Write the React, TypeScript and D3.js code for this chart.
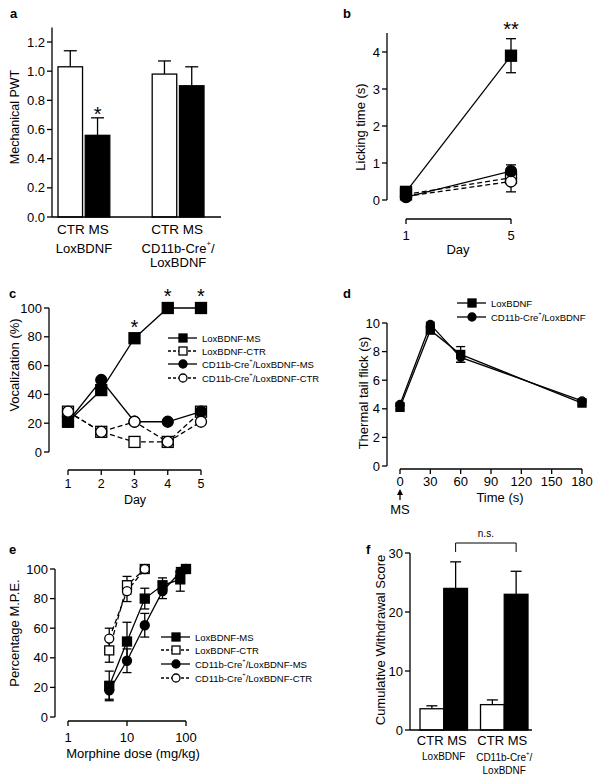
import React from 'react'
import * as d3 from 'd3'

const FONT = '"Liberation Sans", Arial, Helvetica, sans-serif'

// a: mechanical paw withdrawal threshold
const groups = ['LoxBDNF', 'CD11b-Cre+/LoxBDNF']
const conds = ['CTR', 'MS']
const mechCTR = [1.03, 0.98]
const mechCTRErr = [0.11, 0.09]
const mechMS = [0.56, 0.9]
const mechMSErr = [0.12, 0.13]
const mechTicks = [0, 0.2, 0.4, 0.6, 0.8, 1.0, 1.2]

// b: licking time
const lickDays = [1, 5]
const lickLoxMS = [0.22, 3.9]
const lickLoxMSErr = [0.05, 0.46]
const lickLoxCTR = [0.15, 0.6]
const lickLoxCTRErr = [0.04, 0.12]
const lickCreMS = [0.08, 0.78]
const lickCreMSErr = [0.03, 0.17]
const lickCreCTR = [0.1, 0.5]
const lickCreCTRErr = [0.04, 0.28]
const lickTicks = [0, 1, 2, 3, 4]

// c: vocalization
const vocDays = [1, 2, 3, 4, 5]
const vocLoxMS = [21, 43, 79, 100, 100]
const vocLoxCTR = [28, 14, 7, 7, 28]
const vocCreMS = [21, 50, 21, 21, 28]
const vocCreCTR = [28, 14, 21, 7, 21]
const vocTicks = [0, 20, 40, 60, 80, 100]
const vocStarDays = [3, 4, 5]

// d: thermal tail flick
const tailTimes = [0, 30, 60, 180]
const tailLox = [4.1, 9.5, 7.8, 4.4]
const tailLoxErr = [0.15, 0.2, 0.55, 0.15]
const tailCre = [4.3, 9.9, 7.6, 4.55]
const tailCreErr = [0.12, 0.15, 0.35, 0.12]
const tailYTicks = [0, 2, 4, 6, 8, 10]
const tailXTicks = [0, 30, 60, 90, 120, 150, 180]

// e: morphine dose response
const doseMS = [5, 10, 20, 40, 80, 100]
const mpeLoxMS = [21, 51, 80, 89, 93, 100]
const mpeLoxMSErr = [10, 13, 7, 5, 8, 0]
const mpeCreMS = [18, 38, 62, 85, 98, 100]
const mpeCreMSErr = [6, 8, 8, 5, 2, 0]
const doseCTR = [5, 10, 20]
const mpeLoxCTR = [45, 89, 100]
const mpeLoxCTRErr = [8, 6, 0]
const mpeCreCTR = [53, 85, 100]
const mpeCreCTRErr = [7, 7, 0]
const mpeTicks = [0, 20, 40, 60, 80, 100]
const doseTicks = [1, 10, 100]

// f: withdrawal score
const wdCTR = [3.6, 4.3]
const wdCTRErr = [0.5, 0.8]
const wdMS = [24, 23]
const wdMSErr = [4.5, 3.9]
const wdTicks = [0, 10, 20, 30]

type Sty = { shape: 'square' | 'circle'; filled: boolean; dashed: boolean }
const LOX_MS: Sty = { shape: 'square', filled: true, dashed: false }
const LOX_CTR: Sty = { shape: 'square', filled: false, dashed: true }
const CRE_MS: Sty = { shape: 'circle', filled: true, dashed: false }
const CRE_CTR: Sty = { shape: 'circle', filled: false, dashed: true }

const SW = 1.3

function Mark({ cx, cy, sty, size }: { cx: number; cy: number; sty: Sty; size: number }) {
  const fill = sty.filled ? '#000' : '#fff'
  if (sty.shape === 'square')
    return <rect x={cx - size / 2} y={cy - size / 2} width={size} height={size} fill={fill} stroke="#000" strokeWidth={SW} />
  return <circle cx={cx} cy={cy} r={size / 2} fill={fill} stroke="#000" strokeWidth={SW} />
}

function ErrBar({ x, y1, y2, cap, lower = true }: { x: number; y1: number; y2: number; cap: number; lower?: boolean }) {
  return (
    <g stroke="#000" strokeWidth={SW}>
      <line x1={x} x2={x} y1={y1} y2={y2} />
      <line x1={x - cap / 2} x2={x + cap / 2} y1={y2} y2={y2} />
      {lower && <line x1={x - cap / 2} x2={x + cap / 2} y1={y1} y2={y1} />}
    </g>
  )
}

type SeriesDef = { xs: number[]; ys: number[]; errs?: number[]; sty: Sty }

function Series({ defs, x, y, size, cap }: { defs: SeriesDef[]; x: (v: number) => number; y: (v: number) => number; size: number; cap: number }) {
  return (
    <g>
      {defs.map((s, k) => {
        const d = d3.line<number>().x((_, i) => x(s.xs[i])).y(v => y(v))(s.ys)
        return <path key={'l' + k} d={d || ''} fill="none" stroke="#000" strokeWidth={SW} strokeDasharray={s.sty.dashed ? '5,3' : undefined} />
      })}
      {defs.map((s, k) =>
        s.errs ? s.ys.map((v, i) => s.errs![i] > 0 ? <ErrBar key={'e' + k + i} x={x(s.xs[i])} y1={y(v - s.errs![i])} y2={y(v + s.errs![i])} cap={cap} /> : null) : null
      )}
      {defs.map((s, k) => s.ys.map((v, i) => <Mark key={'m' + k + i} cx={x(s.xs[i])} cy={y(v)} sty={s.sty} size={size} />))}
    </g>
  )
}

function YAxis({ x, y, ticks, top, fmt, fs = 13 }: { x: number; y: (v: number) => number; ticks: number[]; top: number; fmt: (v: number) => string; fs?: number }) {
  return (
    <g>
      <line x1={x} x2={x} y1={y(ticks[0])} y2={top} stroke="#000" strokeWidth={SW} />
      {ticks.map(t => (
        <g key={t}>
          <line x1={x - 5} x2={x} y1={y(t)} y2={y(t)} stroke="#000" strokeWidth={SW} />
          <text x={x - 7} y={y(t)} textAnchor="end" dominantBaseline="central" fontSize={fs}>{fmt(t)}</text>
        </g>
      ))}
    </g>
  )
}

function XBracket({ x, y, ticks, gap, fs = 13 }: { x: (v: number) => number; y: number; ticks: number[]; gap: number; fs?: number }) {
  return (
    <g>
      <line x1={x(ticks[0])} x2={x(ticks[ticks.length - 1])} y1={y} y2={y} stroke="#000" strokeWidth={SW} />
      {ticks.map(t => (
        <g key={t}>
          <line x1={x(t)} x2={x(t)} y1={y} y2={y + 5} stroke="#000" strokeWidth={SW} />
          <text x={x(t)} y={y + gap} textAnchor="middle" dominantBaseline="central" fontSize={fs}>{t}</text>
        </g>
      ))}
    </g>
  )
}

function YTitle({ x, cy, text, fs = 13 }: { x: number; cy: number; text: string; fs?: number }) {
  return <text transform={`translate(${x},${cy}) rotate(-90)`} textAnchor="middle" dominantBaseline="central" fontSize={fs}>{text}</text>
}

function CreText({ x, y, rest, fs, anchor = 'start' }: { x: number; y: number; rest: string; fs: number; anchor?: string }) {
  return (
    <text x={x} y={y} fontSize={fs} dominantBaseline="central" textAnchor={anchor as any}>
      <tspan>CD11b-Cre</tspan>
      <tspan fontSize={fs * 0.6} dy={-fs * 0.4}>+</tspan>
      <tspan dy={fs * 0.4}>{rest}</tspan>
    </text>
  )
}

function Legend({ x, rows, size }: { x: number; rows: { y: number; sty: Sty; label: string; cre: boolean }[]; size: number }) {
  return (
    <g>
      {rows.map((r, i) => (
        <g key={i}>
          <line x1={x} x2={x + 29} y1={r.y} y2={r.y} stroke="#000" strokeWidth={SW} strokeDasharray={r.sty.dashed ? '3,2' : undefined} />
          <Mark cx={x + 15} cy={r.y} sty={r.sty} size={size} />
          {r.cre
            ? <CreText x={x + 34} y={r.y} rest={r.label} fs={9.5} />
            : <text x={x + 34} y={r.y} fontSize={9.5} dominantBaseline="central">{r.label}</text>}
        </g>
      ))}
    </g>
  )
}

function Star({ x, cy, text }: { x: number; cy: number; text: string }) {
  return <text x={x} y={cy + 11} textAnchor="middle" fontSize={20}>{text}</text>
}

function PanelA() {
  const xg = d3.scaleBand().domain(groups).range([58, 204]).paddingInner(0.45)
  const xi = d3.scaleBand().domain(conds).range([0, xg.bandwidth()]).paddingInner(0.1)
  const y = d3.scaleLinear().domain([0, 1.2]).range([217, 42])
  const bars = groups.flatMap((g, gi) => [
    { g, c: 'CTR', v: mechCTR[gi], e: mechCTRErr[gi] },
    { g, c: 'MS', v: mechMS[gi], e: mechMSErr[gi] },
  ])
  const cx = (b: { g: string; c: string }) => xg(b.g)! + xi(b.c)! + xi.bandwidth() / 2
  return (
    <g>
      <text x={10} y={18} fontSize={13} fontWeight="bold">a</text>
      <YAxis x={52} y={y} ticks={mechTicks} top={y(1.3)} fmt={d3.format('.1f')} />
      <YTitle x={15} cy={117} text="Mechanical PWT" fs={12.5} />
      {bars.map((b, i) => (
        <g key={i}>
          <ErrBar x={cx(b)} y1={y(b.v)} y2={y(b.v + b.e)} cap={13} lower={false} />
          <rect x={xg(b.g)! + xi(b.c)!} y={y(b.v)} width={xi.bandwidth()} height={y(0) - y(b.v)} fill={b.c === 'MS' ? '#000' : '#fff'} stroke="#000" strokeWidth={SW} />
        </g>
      ))}
      {groups.map(g => (
        <text key={g} x={xg(g)! + xg.bandwidth() / 2 - 1} y={229} textAnchor="middle" dominantBaseline="central" fontSize={13.5}>{conds.join('  ')}</text>
      ))}
      <line x1={52} x2={221} y1={y(0)} y2={y(0)} stroke="#000" strokeWidth={SW} />
      <Star x={cx(bars[1])} cy={110} text="*" />
      <text x={xg(groups[0])! + xg.bandwidth() / 2} y={248} textAnchor="middle" dominantBaseline="central" fontSize={13}>LoxBDNF</text>
      <CreText x={xg(groups[1])! + xg.bandwidth() / 2} y={248} rest="/" fs={13} anchor="middle" />
      <text x={xg(groups[1])! + xg.bandwidth() / 2} y={262} textAnchor="middle" dominantBaseline="central" fontSize={13}>LoxBDNF</text>
    </g>
  )
}

function PanelB() {
  const x = d3.scaleLinear().domain([1, 5]).range([406, 511])
  const y = d3.scaleLinear().domain([0, 4]).range([200, 52])
  const defs: SeriesDef[] = [
    { xs: lickDays, ys: lickLoxCTR, errs: lickLoxCTRErr, sty: LOX_CTR },
    { xs: lickDays, ys: lickCreCTR, errs: lickCreCTRErr, sty: CRE_CTR },
    { xs: lickDays, ys: lickCreMS, errs: lickCreMSErr, sty: CRE_MS },
    { xs: lickDays, ys: lickLoxMS, errs: lickLoxMSErr, sty: LOX_MS },
  ]
  return (
    <g>
      <text x={343} y={18} fontSize={13} fontWeight="bold">b</text>
      <YAxis x={387} y={y} ticks={lickTicks} top={33} fmt={d => String(d)} />
      <YTitle x={360} cy={127} text="Licking time (s)" />
      <Series defs={defs} x={x} y={y} size={11} cap={10} />
      <XBracket x={x} y={219} ticks={lickDays} gap={16} />
      <text x={458} y={249} textAnchor="middle" dominantBaseline="central" fontSize={13}>Day</text>
      <Star x={511} cy={25} text="**" />
    </g>
  )
}

function PanelC() {
  const x = d3.scaleLinear().domain([1, 5]).range([68, 201])
  const y = d3.scaleLinear().domain([0, 100]).range([452, 308])
  const defs: SeriesDef[] = [
    { xs: vocDays, ys: vocLoxCTR, sty: LOX_CTR },
    { xs: vocDays, ys: vocCreMS, sty: CRE_MS },
    { xs: vocDays, ys: vocLoxMS, sty: LOX_MS },
    { xs: vocDays, ys: vocCreCTR, sty: CRE_CTR },
  ]
  return (
    <g>
      <text x={9} y={298} fontSize={13} fontWeight="bold">c</text>
      <YAxis x={49} y={y} ticks={vocTicks} top={308} fmt={d => String(d)} />
      <YTitle x={14} cy={365} text="Vocalization (%)" />
      <Series defs={defs} x={x} y={y} size={11} cap={10} />
      {vocStarDays.map(d => <Star key={d} x={x(d)} cy={d === 3 ? 323 : 292} text="*" />)}
      <XBracket x={x} y={470} ticks={vocDays} gap={14} fs={12.5} />
      <text x={135} y={500} textAnchor="middle" dominantBaseline="central" fontSize={12.5}>Day</text>
      <Legend x={168} size={8} rows={[
        { y: 338, sty: LOX_MS, label: 'LoxBDNF-MS', cre: false },
        { y: 351, sty: LOX_CTR, label: 'LoxBDNF-CTR', cre: false },
        { y: 364, sty: CRE_MS, label: '/LoxBDNF-MS', cre: true },
        { y: 378, sty: CRE_CTR, label: '/LoxBDNF-CTR', cre: true },
      ]} />
    </g>
  )
}

function PanelD() {
  const x = d3.scaleLinear().domain([0, 180]).range([400, 582])
  const y = d3.scaleLinear().domain([0, 10]).range([466, 323])
  const defs: SeriesDef[] = [
    { xs: tailTimes, ys: tailLox, errs: tailLoxErr, sty: LOX_MS },
    { xs: tailTimes, ys: tailCre, errs: tailCreErr, sty: CRE_MS },
  ]
  return (
    <g>
      <text x={343} y={298} fontSize={13} fontWeight="bold">d</text>
      <YAxis x={387} y={y} ticks={tailYTicks} top={323} fmt={d => String(d)} />
      <YTitle x={363} cy={393} text="Thermal tail flick (s)" />
      <Series defs={defs} x={x} y={y} size={8} cap={9} />
      <XBracket x={x} y={469} ticks={tailXTicks} gap={12} />
      <text x={500} y={497} textAnchor="middle" dominantBaseline="central" fontSize={13}>Time (s)</text>
      <line x1={x(0)} x2={x(0)} y1={500} y2={492} stroke="#000" strokeWidth={SW} />
      <path d={`M${x(0)},489 L${x(0) - 3},495 L${x(0) + 3},495 Z`} fill="#000" />
      <text x={x(0)} y={509} textAnchor="middle" dominantBaseline="central" fontSize={13}>MS</text>
      <Legend x={457} size={8} rows={[
        { y: 303, sty: LOX_MS, label: 'LoxBDNF', cre: false },
        { y: 317, sty: CRE_MS, label: '/LoxBDNF', cre: true },
      ]} />
    </g>
  )
}

function PanelE() {
  const x = d3.scaleLog().domain([1, 100]).range([68, 186])
  const y = d3.scaleLinear().domain([0, 100]).range([717, 569])
  const defs: SeriesDef[] = [
    { xs: doseCTR, ys: mpeLoxCTR, errs: mpeLoxCTRErr, sty: LOX_CTR },
    { xs: doseCTR, ys: mpeCreCTR, errs: mpeCreCTRErr, sty: CRE_CTR },
    { xs: doseMS, ys: mpeCreMS, errs: mpeCreMSErr, sty: CRE_MS },
    { xs: doseMS, ys: mpeLoxMS, errs: mpeLoxMSErr, sty: LOX_MS },
  ]
  return (
    <g>
      <text x={9} y={554} fontSize={13} fontWeight="bold">e</text>
      <YAxis x={55} y={y} ticks={mpeTicks} top={569} fmt={d => String(d)} />
      <YTitle x={14} cy={633} text="Percentage M.P.E." />
      <Series defs={defs} x={x} y={y} size={9} cap={9} />
      <XBracket x={x} y={721} ticks={doseTicks} gap={16} />
      <text x={133} y={753} textAnchor="middle" dominantBaseline="central" fontSize={13}>Morphine dose (mg/kg)</text>
      <Legend x={161} size={8} rows={[
        { y: 637, sty: LOX_MS, label: 'LoxBDNF-MS', cre: false },
        { y: 650, sty: LOX_CTR, label: 'LoxBDNF-CTR', cre: false },
        { y: 664, sty: CRE_MS, label: '/LoxBDNF-MS', cre: true },
        { y: 678, sty: CRE_CTR, label: '/LoxBDNF-CTR', cre: true },
      ]} />
    </g>
  )
}

function PanelF() {
  const xg = d3.scaleBand().domain(groups).range([420, 528]).paddingInner(0.215)
  const xi = d3.scaleBand().domain(conds).range([0, xg.bandwidth()])
  const y = d3.scaleLinear().domain([0, 30]).range([730, 553])
  const bars = groups.flatMap((g, gi) => [
    { g, c: 'CTR', v: wdCTR[gi], e: wdCTRErr[gi] },
    { g, c: 'MS', v: wdMS[gi], e: wdMSErr[gi] },
  ])
  const cx = (b: { g: string; c: string }) => xg(b.g)! + xi(b.c)! + xi.bandwidth() / 2
  const m1 = cx(bars[1])
  const m2 = cx(bars[3])
  return (
    <g>
      <text x={366} y={554} fontSize={13} fontWeight="bold">f</text>
      <YAxis x={410} y={y} ticks={wdTicks} top={553} fmt={d => String(d)} />
      <YTitle x={380} cy={640} text="Cumulative Withdrawal Score" />
      {bars.map((b, i) => (
        <g key={i}>
          <ErrBar x={cx(b)} y1={y(b.v)} y2={y(b.v + b.e)} cap={11} lower={false} />
          <rect x={xg(b.g)! + xi(b.c)!} y={y(b.v)} width={xi.bandwidth()} height={y(0) - y(b.v)} fill={b.c === 'MS' ? '#000' : '#fff'} stroke="#000" strokeWidth={SW} />
        </g>
      ))}
      {groups.map(g => (
        <text key={g} x={xg(g)! + xg.bandwidth() / 2 - 2} y={740} textAnchor="middle" dominantBaseline="central" fontSize={13}>{conds.join(' ')}</text>
      ))}
      <line x1={410} x2={532} y1={y(0)} y2={y(0)} stroke="#000" strokeWidth={SW} />
      <path d={`M${m1},552 V543 H${m2} V552`} fill="none" stroke="#000" strokeWidth={1} />
      <text x={(m1 + m2) / 2} y={533} textAnchor="middle" dominantBaseline="central" fontSize={10}>n.s.</text>
      <text x={xg(groups[0])! + xg.bandwidth() / 2} y={756} textAnchor="middle" dominantBaseline="central" fontSize={10}>LoxBDNF</text>
      <CreText x={xg(groups[1])! + xg.bandwidth() / 2} y={757} rest="/" fs={10} anchor="middle" />
      <text x={xg(groups[1])! + xg.bandwidth() / 2} y={770} textAnchor="middle" dominantBaseline="central" fontSize={10}>LoxBDNF</text>
    </g>
  )
}

export default function App() {
  return (
    <div>
      <style>{'body{margin:0}'}</style>
      <svg width={602} height={781} style={{ display: 'block', background: '#fff', fontFamily: FONT }}>
        <PanelA />
        <PanelB />
        <PanelC />
        <PanelD />
        <PanelE />
        <PanelF />
      </svg>
    </div>
  )
}
